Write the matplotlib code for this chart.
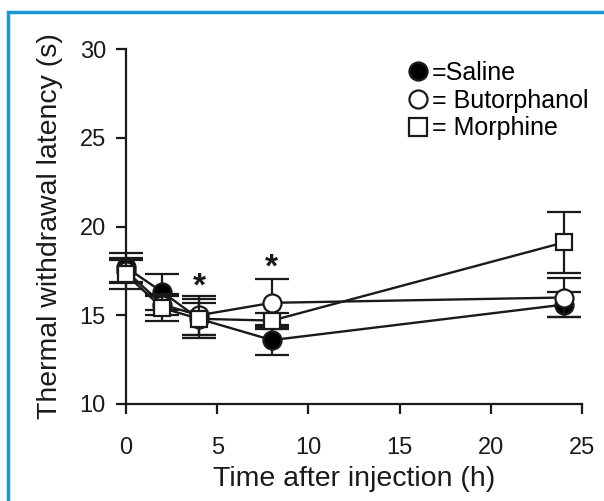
import matplotlib
matplotlib.use('Agg')
import matplotlib.pyplot as plt
from matplotlib.patches import Rectangle
from matplotlib.lines import Line2D

plt.rcParams['font.family'] = ['Liberation Sans', 'DejaVu Sans']

# values
hours = [0, 2, 4, 8, 24]
saline = [17.7, 16.3, 14.8, 13.6, 15.6]
saline_err = [0.8, 1.0, 0.9, 0.85, 0.7]
butorphanol = [17.5, 15.6, 15.0, 15.7, 16.0]
butorphanol_err = [0.7, 0.6, 1.1, 1.35, 1.1]
morphine = [17.3, 15.4, 14.8, 14.7, 19.1]
morphine_err = [0.8, 0.7, 1.1, 0.45, 1.7]
star_hours = [4, 8]
star_levels = [16.6, 17.65]

ink = '#1a1a1a'

fig = plt.figure(figsize=(6.04, 5.01), dpi=100)
ax = fig.add_axes([126 / 604, 97 / 501, 456 / 604, 355 / 501])

series = [
    (saline, saline_err, 'o', 'black', 13, 2),
    (butorphanol, butorphanol_err, 'o', 'white', 13, 3),
    (morphine, morphine_err, 's', 'white', 11, 4),
]
for vals, errs, mk, fc, ms, z in series:
    ax.errorbar(hours, vals, yerr=errs, color=ink, marker=mk, mfc=fc,
                mec=ink, mew=1.6, ms=ms, lw=1.7, elinewidth=1.6,
                capsize=12, capthick=1.6, zorder=z, clip_on=False)

for h, lvl in zip(star_hours, star_levels):
    ax.text(h, lvl, '*', ha='center', va='center', fontsize=24,
            fontweight='bold', color=ink)

ax.set_xlim(0, 25)
ax.set_ylim(10, 30)
ax.set_xticks([0, 5, 10, 15, 20, 25])
ax.set_yticks([10, 15, 20, 25, 30])
for s in ['top', 'right']:
    ax.spines[s].set_visible(False)
for s in ['left', 'bottom']:
    ax.spines[s].set_linewidth(1.6)
    ax.spines[s].set_color(ink)
ax.tick_params(direction='out', length=7.5, width=1.6, labelsize=17,
               colors=ink)
ax.tick_params(axis='x', pad=16)
ax.tick_params(axis='y', pad=7)
ax.set_xlabel('Time after injection (h)', fontsize=20.5, color=ink, labelpad=5)
ax.set_ylabel('Thermal withdrawal latency (s)', fontsize=20.5, color=ink, labelpad=12)

handles = [
    Line2D([], [], ls='none', marker='o', mfc='black', mec=ink, mew=1.6, ms=13),
    Line2D([], [], ls='none', marker='o', mfc='white', mec=ink, mew=1.6, ms=13),
    Line2D([], [], ls='none', marker='s', mfc='white', mec=ink, mew=1.6, ms=13),
]
ax.legend(handles, ['=Saline', '= Butorphanol', '= Morphine'], frameon=False,
          loc='upper left', bbox_to_anchor=(0.6, 0.995), fontsize=18,
          handlelength=0.7, handletextpad=0.2, labelspacing=0.15,
          borderaxespad=0)

fig.add_artist(Rectangle((8 / 604, -0.1), 1.2, (501 - 12) / 501 + 0.1,
                         transform=fig.transFigure, fill=False,
                         edgecolor='#1b96d6', lw=2.5))

fig.savefig('out.png', dpi=100)
